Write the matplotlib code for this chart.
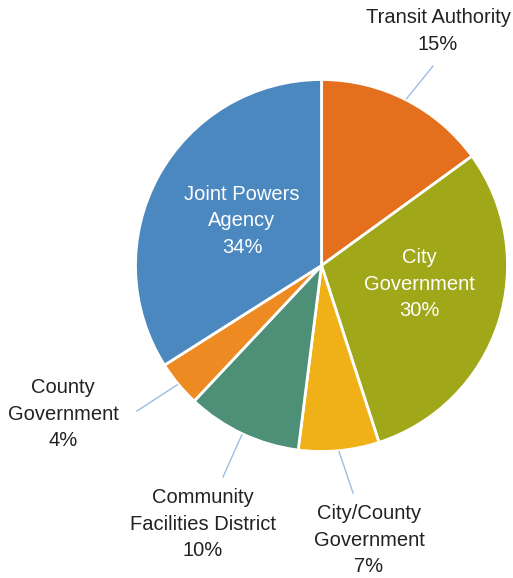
import numpy as np
import matplotlib.pyplot as plt

plt.rcParams['font.family'] = ['Liberation Sans', 'DejaVu Sans']

labels = ["Transit Authority", "City\nGovernment", "City/County\nGovernment",
          "Community\nFacilities District", "County\nGovernment", "Joint Powers\nAgency"]
shares = [15, 30, 7, 10, 4, 34]
colors = ["#E4701E", "#A0A718", "#F0B118", "#4E8F78", "#EE8A22", "#4A88BF"]

W, H = 513, 578
fig = plt.figure(figsize=(W / 100, H / 100), dpi=100)
ax = fig.add_axes([0, 0, 1, 1])

cx, cy, r = 321.5, H - 265.5, 186
wedges, _ = ax.pie(shares, colors=colors, startangle=90, counterclock=False,
                   center=(cx, cy), radius=r, frame=True,
                   wedgeprops=dict(edgecolor="white", linewidth=2))
ax.set_xlim(0, W)
ax.set_ylim(0, H)
ax.axis("off")

# label positions (pixel coords from top) and leader line ends
inside = {1: (419, 284), 5: (242, 221)}
outside = {0: ((438, 31), (433, 66)),
           2: ((369, 540), (353, 493)),
           3: ((203, 524), (223, 477)),
           4: ((63, 414), (137, 411))}

for i, (lab, s) in enumerate(zip(labels, shares)):
    txt = f"{lab}\n{s}%"
    if i in inside:
        x, y = inside[i]
        ax.text(x, H - y, txt, ha="center", va="center", color="white",
                fontsize=14.5, linespacing=1.47)
    else:
        (tx, ty), (lx, ly) = outside[i]
        w = wedges[i]
        ang = np.deg2rad((w.theta1 + w.theta2) / 2)
        px, py = cx + (r + 1) * np.cos(ang), cy + (r + 1) * np.sin(ang)
        ax.plot([px, lx], [py, H - ly], color="#9DBDE3", lw=1)
        ax.text(tx, H - ty, txt, ha="center", va="center", color="#222222",
                fontsize=14.5, linespacing=1.47)

fig.savefig("out.png", dpi=100)
